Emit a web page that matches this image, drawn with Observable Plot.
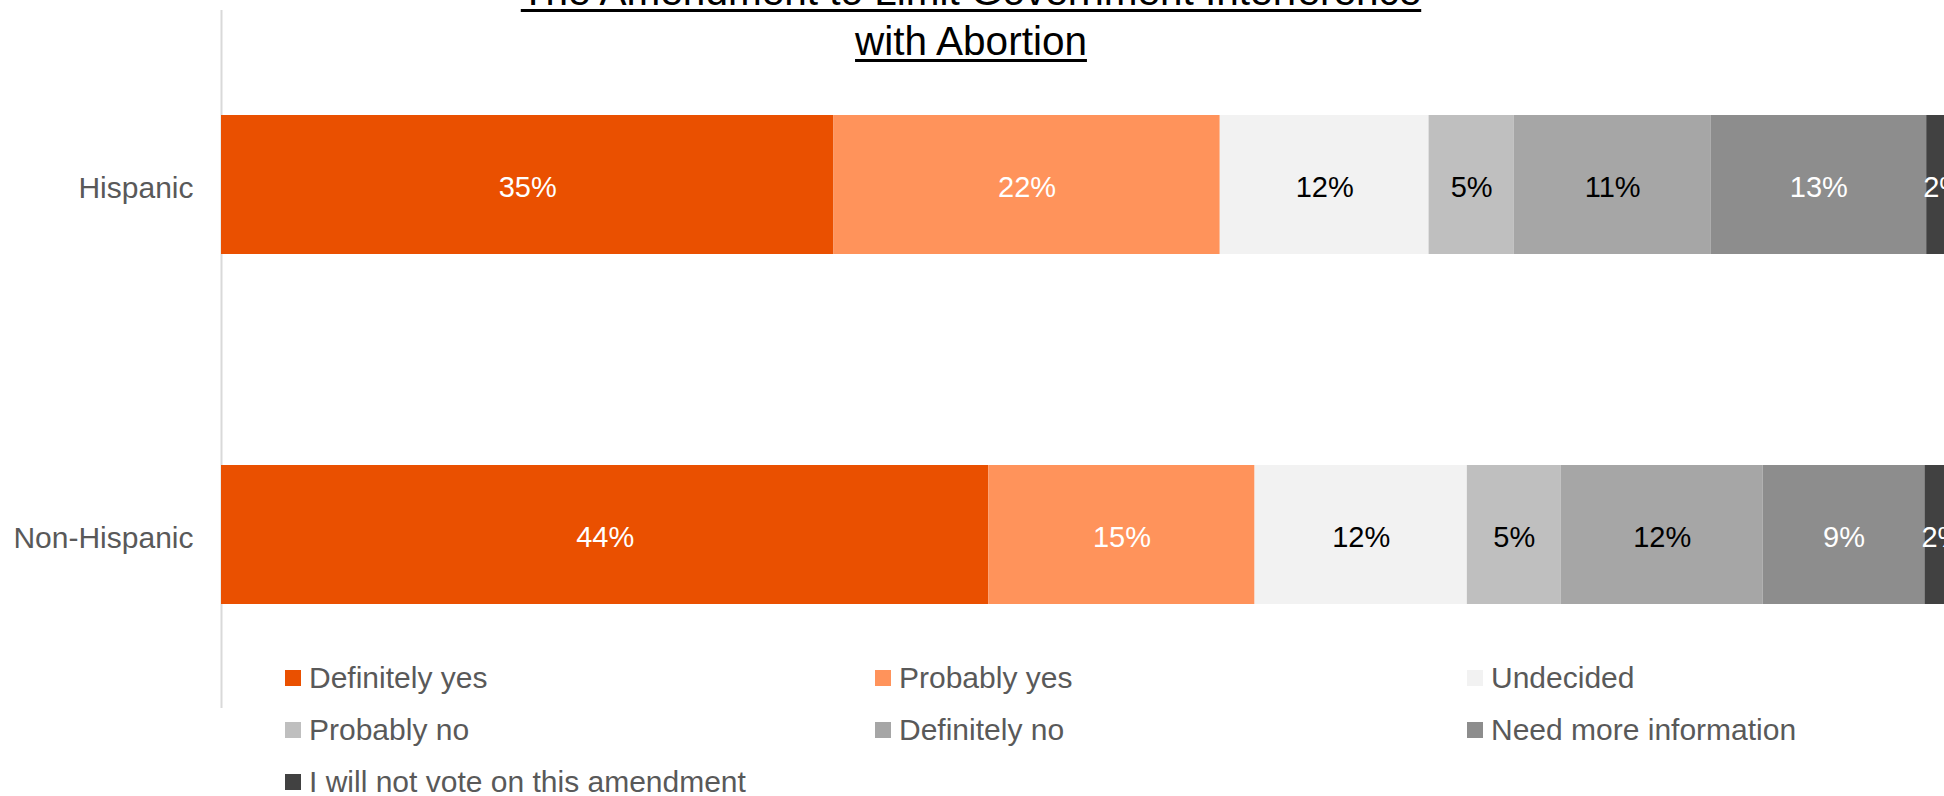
<!DOCTYPE html>
<html>
<head>
<meta charset="utf-8">
<script src="https://cdn.jsdelivr.net/npm/d3@7"></script>
<script src="https://cdn.jsdelivr.net/npm/@observablehq/plot@0.6"></script>
<style>
  html, body { margin: 0; padding: 0; background: #fff; overflow: hidden; }
  #wrap { position: relative; width: 1944px; height: 796px; overflow: hidden; font-family: "Liberation Sans", Arial, sans-serif; }
  #title { position: absolute; left: 471px; width: 1000px; top: -34px; text-align: center; font-size: 40.5px; line-height: 50px; color: #000; text-decoration: underline; text-decoration-thickness: 2.5px; text-underline-offset: 4px; }
  #legend { position: absolute; left: 285px; top: 652px; display: grid; grid-template-columns: 590px 592px 400px; grid-auto-rows: 52px; }
  .item { display: flex; align-items: center; font-size: 30px; color: #595959; white-space: nowrap; }
  .sw { width: 16px; height: 16px; margin-right: 8px; flex: none; }
</style>
</head>
<body>
<div id="wrap">
  <div id="chart"></div>
  <div id="title">The Amendment to Limit Government Interference<br>with Abortion</div>
  <div id="legend"></div>
</div>
<script>
const categories = ["Hispanic", "Non-Hispanic"];
const responses = ["Definitely yes", "Probably yes", "Undecided", "Probably no", "Definitely no", "Need more information", "I will not vote on this amendment"];
const colors = ["#EA5000", "#FF935B", "#F2F2F2", "#BFBFBF", "#A6A6A6", "#8D8D8D", "#414141"];
const labelColors = ["#fff", "#fff", "#000", "#000", "#000", "#fff", "#fff"];
const hispanic = [35.2, 22.2, 12.0, 4.9, 11.3, 12.4, 2.0];
const nonHispanic = [44.1, 15.3, 12.2, 5.4, 11.6, 9.3, 2.0];
const hispanicLabels = ["35%", "22%", "12%", "5%", "11%", "13%", "2%"];
const nonHispanicLabels = ["44%", "15%", "12%", "5%", "12%", "9%", "2%"];

const series = [hispanic, nonHispanic];
const seriesLabels = [hispanicLabels, nonHispanicLabels];
const data = [];
categories.forEach((cat, ci) => {
  responses.forEach((resp, ri) => {
    data.push({cat, resp, value: series[ci][ri], label: seriesLabels[ci][ri], light: labelColors[ri] === "#fff"});
  });
});

const plot = Plot.plot({
  width: 1944,
  height: 796,
  marginLeft: 221,
  marginRight: 0,
  marginTop: 10,
  marginBottom: 88,
  style: {fontFamily: "Liberation Sans, Arial, sans-serif", color: "#595959", background: "transparent"},
  x: {domain: [0, 100], range: [221, 1961], axis: null},
  y: {domain: categories, range: [115, 604], paddingInner: 0.603, paddingOuter: 0, label: null},
  color: {domain: responses, range: colors},
  marks: [
    Plot.ruleX([0], {stroke: "#D9D9D9", strokeWidth: 2}),
    Plot.barX(data, Plot.stackX({x: "value", y: "cat", fill: "resp", clip: true})),
    Plot.text(data, Plot.stackX({x: "value", y: "cat", text: d => d.light ? d.label : "", fill: "#fff", fontSize: 29, dy: 3, clip: true})),
    Plot.text(data, Plot.stackX({x: "value", y: "cat", text: d => d.light ? "" : d.label, fill: "#000", fontSize: 29, dy: 3, clip: true})),
    Plot.axisY({tickSize: 0, tickPadding: 28, fontSize: 30, dy: 3, label: null, fill: "#595959"})
  ]
});
document.getElementById("chart").appendChild(plot);

const legend = document.getElementById("legend");
responses.forEach((r, i) => {
  const item = document.createElement("div");
  item.className = "item";
  const sw = document.createElement("span");
  sw.className = "sw";
  sw.style.background = colors[i];
  const t = document.createElement("span");
  t.textContent = r;
  item.appendChild(sw);
  item.appendChild(t);
  legend.appendChild(item);
});
</script>
</body>
</html>
